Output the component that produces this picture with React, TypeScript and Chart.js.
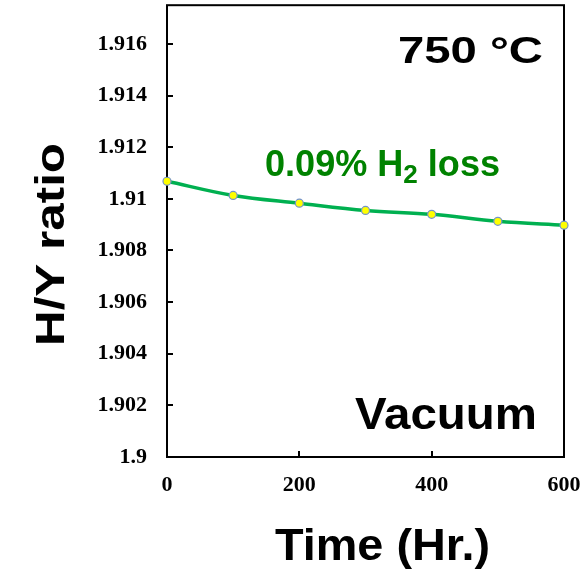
import React, { useEffect, useRef } from "react";
import { Chart, registerables } from "chart.js";

Chart.register(...registerables);

const TIME_HR = [0, 100, 200, 300, 400, 500, 600];
const HY_RATIO = [1.91068, 1.91013, 1.90983, 1.90955, 1.9094, 1.90913, 1.90898];
const Y_TICKS = [1.9, 1.902, 1.904, 1.906, 1.908, 1.91, 1.912, 1.914, 1.916];
const X_TICKS = [0, 200, 400, 600];
const Y_LABELS = ["1.9", "1.902", "1.904", "1.906", "1.908", "1.91", "1.912", "1.914", "1.916"];
const X_LABELS = ["0", "200", "400", "600"];

const SANS = '"Liberation Sans", Arial, sans-serif';
const SERIF = '"Liberation Serif", "Times New Roman", serif';

function fitText(
  ctx: CanvasRenderingContext2D,
  text: string,
  font: string,
  x: number,
  y: number,
  width: number,
  rotate = false
) {
  ctx.save();
  ctx.font = font;
  ctx.textAlign = "left";
  ctx.textBaseline = "alphabetic";
  const w = ctx.measureText(text).width;
  ctx.translate(x, y);
  if (rotate) ctx.rotate(-Math.PI / 2);
  ctx.scale(width / w, 1);
  ctx.fillText(text, 0, 0);
  ctx.restore();
}

const zeroPad = (s: any) => {
  s.paddingTop = 0;
  s.paddingBottom = 0;
  s.paddingLeft = 0;
  s.paddingRight = 0;
};

const framePlugin = {
  id: "frame",
  beforeDatasetsDraw(chart: any) {
    const ctx: CanvasRenderingContext2D = chart.ctx;
    const { left, right, top, bottom } = chart.chartArea;
    const xs = chart.scales.x;
    const ys = chart.scales.y;
    ctx.save();
    ctx.strokeStyle = "#000";
    ctx.lineWidth = 2;
    ctx.strokeRect(left, top, right - left, bottom - top);
    ctx.beginPath();
    for (const v of Y_TICKS) {
      const py = Math.round(ys.getPixelForValue(v));
      ctx.moveTo(left, py);
      ctx.lineTo(left + 6, py);
    }
    for (const v of X_TICKS) {
      const px = Math.round(xs.getPixelForValue(v));
      ctx.moveTo(px, bottom);
      ctx.lineTo(px, bottom - 6);
    }
    ctx.stroke();
    ctx.restore();
  },
  afterDatasetsDraw(chart: any) {
    const ctx: CanvasRenderingContext2D = chart.ctx;
    ctx.save();
    ctx.fillStyle = "#000";
    fitText(ctx, "H/Y ratio", `bold 40px ${SANS}`, 64, 346, 203, true);
    fitText(ctx, "Time (Hr.)", `bold 45px ${SANS}`, 275, 560, 215);
    fitText(ctx, "750 °C", `bold 37px ${SANS}`, 398, 63, 145);
    fitText(ctx, "Vacuum", `bold 45px ${SANS}`, 355, 429, 182);

    const segs = [
      { t: "0.09% H", f: `bold 36px ${SANS}`, dy: 0 },
      { t: "2", f: `bold 26px ${SANS}`, dy: 7 },
      { t: " loss", f: `bold 36px ${SANS}`, dy: 0 },
    ];
    let total = 0;
    const ws: number[] = [];
    for (const s of segs) {
      ctx.font = s.f;
      const w = ctx.measureText(s.t).width;
      ws.push(w);
      total += w;
    }
    const sc = 235 / total;
    ctx.fillStyle = "rgb(0,130,0)";
    let cx = 265;
    segs.forEach((s, i) => {
      ctx.save();
      ctx.font = s.f;
      ctx.textBaseline = "alphabetic";
      ctx.textAlign = "left";
      ctx.translate(cx, 176 + s.dy);
      ctx.scale(sc, 1);
      ctx.fillText(s.t, 0, 0);
      ctx.restore();
      cx += ws[i] * sc;
    });
    ctx.restore();
  },
};

export default function App() {
  const ref = useRef<HTMLCanvasElement | null>(null);
  useEffect(() => {
    if (!ref.current) return;
    const chart = new Chart(ref.current, {
      type: "line",
      data: {
        datasets: [
          {
            data: TIME_HR.map((x, i) => ({ x, y: HY_RATIO[i] })),
            borderColor: "#00b050",
            borderWidth: 3.5,
            tension: 0.35,
            clip: false,
            pointRadius: 4,
            pointBackgroundColor: "#ffff00",
            pointBorderColor: "#7393cc",
            pointBorderWidth: 1.2,
          },
        ],
      },
      options: {
        animation: false,
        responsive: false,
        maintainAspectRatio: false,
        layout: { padding: { left: 0, right: 20, top: 4, bottom: 0 } },
        plugins: { legend: { display: false }, tooltip: { enabled: false } },
        scales: {
          x: {
            type: "linear",
            min: 0,
            max: 600,
            afterBuildTicks: (s: any) => {
              s.ticks = X_TICKS.map((v) => ({ value: v }));
            },
            afterFit: (s: any) => {
              s.height = 118;
              zeroPad(s);
            },
            grid: { display: false, drawTicks: false },
            border: { display: false },
            ticks: {
              padding: 15,
              color: "#000",
              font: { family: SERIF, size: 22, weight: "bold" },
              callback: (v: any) => X_LABELS[X_TICKS.indexOf(Number(v))] ?? "",
              maxRotation: 0,
            },
          },
          y: {
            type: "linear",
            min: 1.9,
            max: 1.9175,
            afterBuildTicks: (s: any) => {
              s.ticks = Y_TICKS.map((v) => ({ value: v }));
            },
            afterFit: (s: any) => {
              s.width = 167;
              zeroPad(s);
            },
            grid: { display: false, drawTicks: false },
            border: { display: false },
            ticks: {
              padding: 20,
              color: "#000",
              font: { family: SERIF, size: 22, weight: "bold" },
              callback: (v: any) => {
                const idx = Y_TICKS.findIndex((t) => Math.abs(t - Number(v)) < 1e-7);
                return idx >= 0 ? Y_LABELS[idx] : "";
              },
            },
          },
        },
      },
      plugins: [framePlugin],
    });
    return () => chart.destroy();
  }, []);
  return (
    <div style={{ position: "fixed", left: 0, top: 0, width: 584, height: 575, background: "#fff" }}>
      <canvas ref={ref} width={584} height={575} style={{ width: 584, height: 575, display: "block" }} />
    </div>
  );
}
